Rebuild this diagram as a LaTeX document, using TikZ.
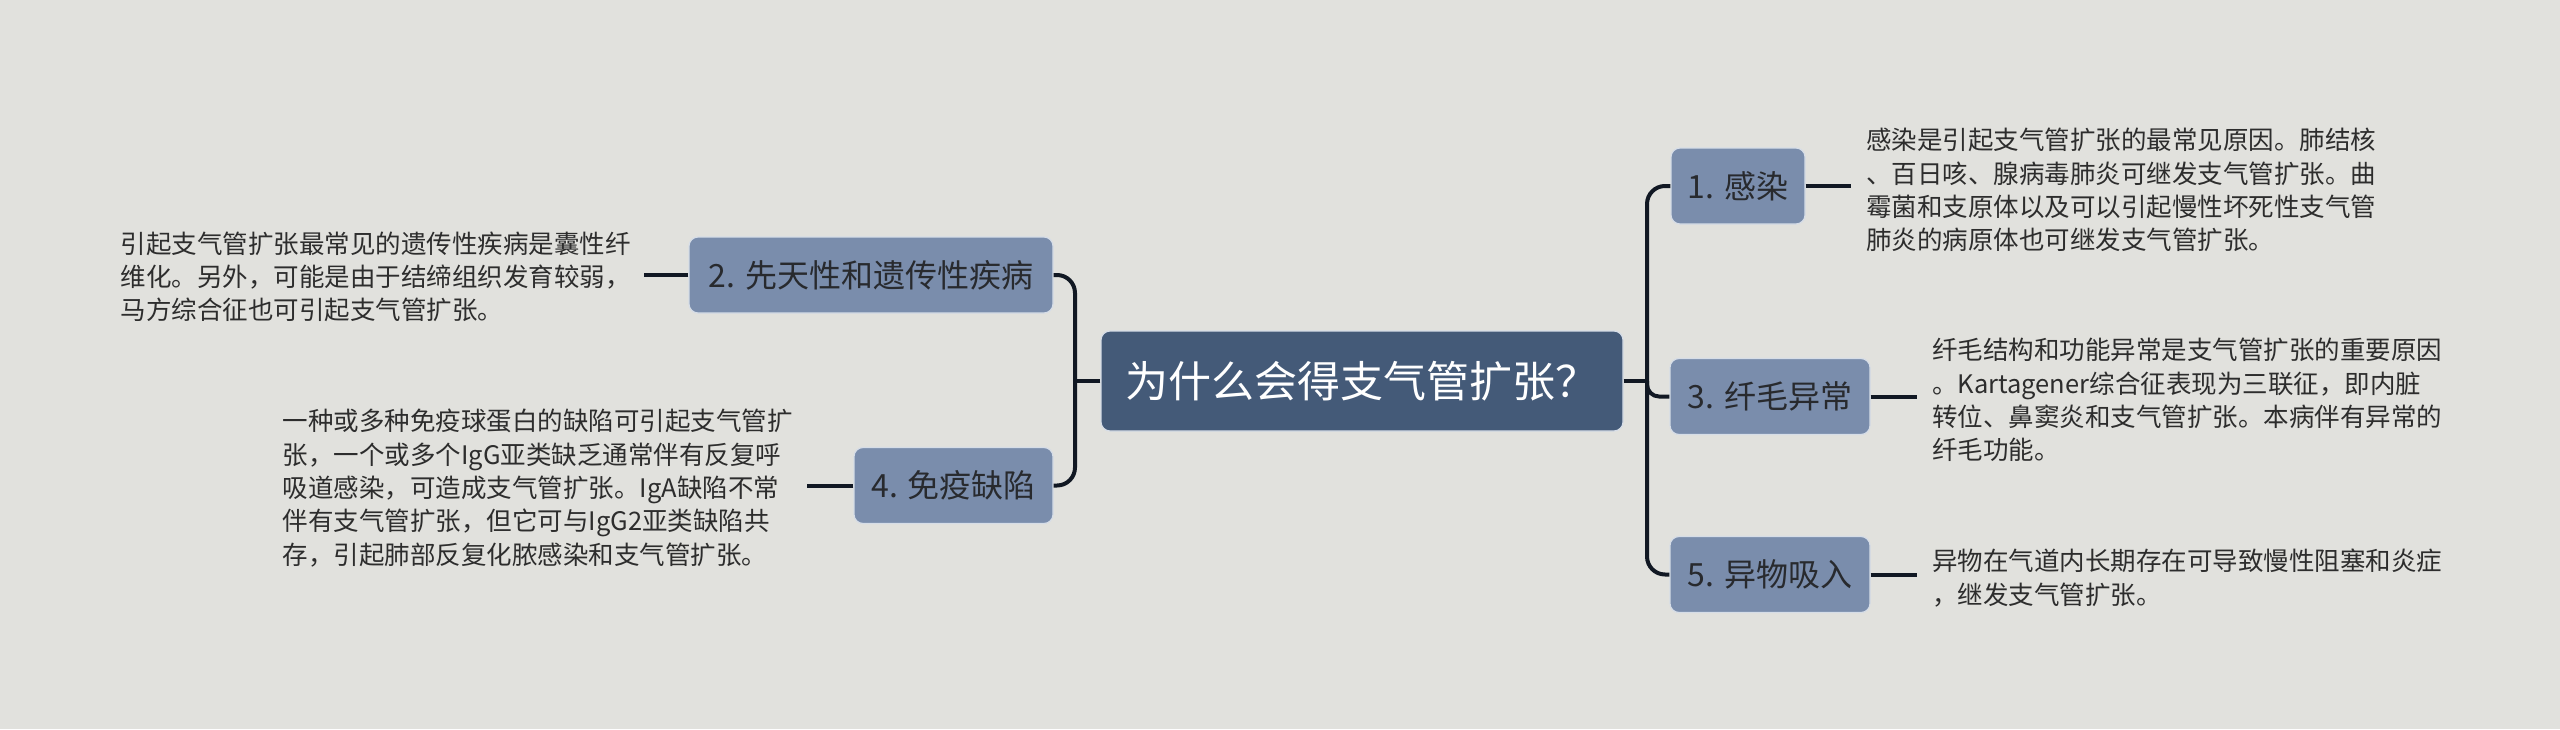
\documentclass[tikz,border=0pt]{standalone}
\usepackage{fontspec}
\setmainfont{Noto Sans CJK SC}
\definecolor{bgc}{RGB}{225,225,221}
\definecolor{hubfill}{RGB}{68,90,120}
\definecolor{topicfill}{RGB}{122,141,172}
\definecolor{edgec}{RGB}{214,221,231}
\definecolor{linec}{RGB}{17,24,35}
\definecolor{topictext}{RGB}{40,42,46}
\definecolor{bodytext}{RGB}{45,45,45}
\begin{document}
\begin{tikzpicture}[x=1pt,y=-1pt,
  hub/.style={rounded corners=9pt, fill=hubfill, draw=edgec, line width=1.2pt, text=white,
    font=\fontsize{43}{50}\selectfont, minimum width=522pt, minimum height=100pt, inner sep=0pt},
  topic/.style={rounded corners=9pt, fill=topicfill, draw=edgec, line width=1.2pt, text=topictext,
    font=\fontsize{32}{38}\selectfont, minimum height=76pt, inner sep=0pt},
  body/.style={font=\fontsize{25.5}{33.3}\selectfont, text=bodytext, align=left, inner xsep=15pt, inner ysep=0pt},
  link/.style={draw=linec, line width=4pt}]
\useasboundingbox (0,0) rectangle (2560,729);
\fill[bgc] (0,0) rectangle (2560,729);

\coordinate (rt) at (1647,381);
\coordinate (lt) at (1075,381);

\node[hub] (c) at (1362,381) {为什么会得支气管扩张？};
\node[topic, minimum width=134pt] (n1) at (1738,186) {1. 感染};
\node[topic, minimum width=200pt] (n3) at (1770,396.5) {3. 纤毛异常};
\node[topic, minimum width=200pt] (n5) at (1770,574.5) {5. 异物吸入};
\node[topic, minimum width=364pt] (n2) at (871,275) {2. 先天性和遗传性疾病};
\node[topic, minimum width=199pt] (n4) at (953.5,485.5) {4. 免疫缺陷};

\node[body, anchor=west] (t1) at (1851,190) {感染是引起支气管扩张的最常见原因。肺结核\\、百日咳、腺病毒肺炎可继发支气管扩张。曲\\霉菌和支原体以及可以引起慢性坏死性支气管\\肺炎的病原体也可继发支气管扩张。};
\node[body, anchor=west] (t3) at (1917,400) {纤毛结构和功能异常是支气管扩张的重要原因\\。Kartagener综合征表现为三联征，即内脏\\转位、鼻窦炎和支气管扩张。本病伴有异常的\\纤毛功能。};
\node[body, anchor=west] (t5) at (1917,578) {异物在气道内长期存在可导致慢性阻塞和炎症\\，继发支气管扩张。};
\node[body, anchor=east, inner xsep=13pt] (t2) at (644,277) {引起支气管扩张最常见的遗传性疾病是囊性纤\\维化。另外，可能是由于结缔组织发育较弱，\\马方综合征也可引起支气管扩张。};
\node[body, anchor=east, inner xsep=14pt] (t4) at (807,488) {一种或多种免疫球蛋白的缺陷可引起支气管扩\\张，一个或多个IgG亚类缺乏通常伴有反复呼\\吸道感染，可造成支气管扩张。IgA缺陷不常\\伴有支气管扩张，但它可与IgG2亚类缺陷共\\存，引起肺部反复化脓感染和支气管扩张。};

\draw[link] (c.east) -- (rt);
\draw[link] (c.west) -- (lt);
\draw[link, rounded corners=18pt] (rt) |- (n1.west);
\draw[link, rounded corners=12pt] (rt) |- (n3.west);
\draw[link, rounded corners=18pt] (rt) |- (n5.west);
\draw[link, rounded corners=18pt] (lt) |- (n2.east);
\draw[link, rounded corners=18pt] (lt) |- (n4.east);
\draw[link] (n1.east) -- (n1.east -| t1.west);
\draw[link] (n3.east) -- (n3.east -| t3.west);
\draw[link] (n5.east) -- (n5.east -| t5.west);
\draw[link] (n2.west) -- (n2.west -| t2.east);
\draw[link] (n4.west) -- (n4.west -| t4.east);
\end{tikzpicture}
\end{document}
